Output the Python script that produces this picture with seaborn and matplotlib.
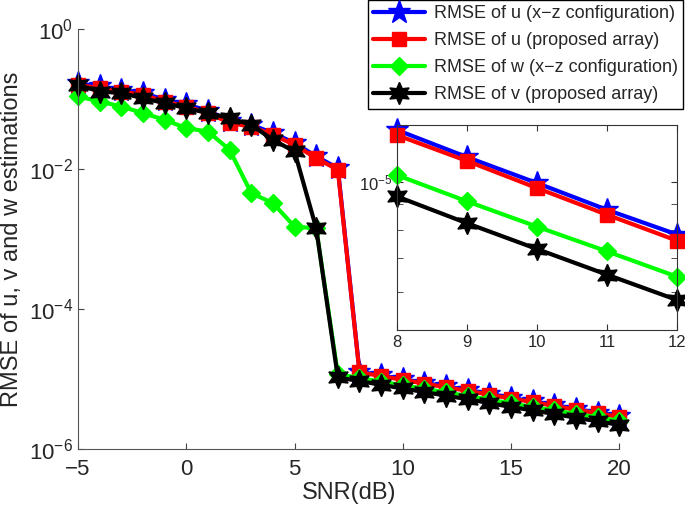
import numpy as np
import matplotlib
matplotlib.use("Agg")
import matplotlib.pyplot as plt
from matplotlib.ticker import NullFormatter, NullLocator
import seaborn as sns

snr = np.array([-5, -4, -3, -2, -1, 0, 1, 2, 3, 4, 5, 6, 7,
                8, 9, 10, 11, 12, 13, 14, 15, 16, 17, 18, 19, 20])

rmse_u_xz = np.array([0.166, 0.151, 0.135, 0.120, 0.0977, 0.0832, 0.0676, 0.0490, 0.0427,
                      0.0324, 0.0234, 0.0151, 0.0102, 1.27e-5, 1.12e-5, 9.93e-6, 8.77e-6,
                      7.82e-6, 6.92e-6, 6.17e-6, 5.37e-6, 4.79e-6, 4.27e-6, 3.72e-6, 3.31e-6, 2.95e-6])
rmse_u_prop = np.array([0.158, 0.142, 0.127, 0.114, 0.0914, 0.0776, 0.0625, 0.0454, 0.0398,
                        0.0306, 0.0220, 0.0142, 0.00968, 1.24e-5, 1.10e-5, 9.70e-6, 8.57e-6,
                        7.60e-6, 6.76e-6, 5.96e-6, 5.25e-6, 4.68e-6, 4.12e-6, 3.63e-6, 3.24e-6, 2.86e-6])
rmse_w_xz = np.array([0.108, 0.0914, 0.0776, 0.0625, 0.0501, 0.0381, 0.0341, 0.0187, 0.00450,
                      0.00324, 0.00150, 0.00141, 1.17e-5, 1.03e-5, 9.12e-6, 8.11e-6, 7.23e-6,
                      6.43e-6, 5.69e-6, 5.07e-6, 4.47e-6, 3.98e-6, 3.55e-6, 3.16e-6, 2.82e-6, 2.51e-6])
rmse_v_prop = np.array([0.158, 0.127, 0.121, 0.102, 0.0869, 0.0736, 0.0625, 0.0530, 0.0426,
                        0.0259, 0.0177, 0.00142, 1.05e-5, 9.33e-6, 8.24e-6, 7.31e-6, 6.49e-6,
                        5.77e-6, 5.13e-6, 4.52e-6, 3.98e-6, 3.55e-6, 3.16e-6, 2.79e-6, 2.48e-6, 2.21e-6])

labels = ["RMSE of u (x\u2212z configuration)", "RMSE of u (proposed array)",
          "RMSE of w (x\u2212z configuration)", "RMSE of v (proposed array)"]
colors = ["#0000ff", "#ff0000", "#00ff00", "#000000"]
markers = ["*", "s", "D", (6, 1, 0)]
msizes = [17, 10, 9.5, 16]
series = [rmse_u_xz, rmse_u_prop, rmse_w_xz, rmse_v_prop]

sns.set_style("ticks")
plt.rcParams['font.family'] = ['Liberation Sans', 'DejaVu Sans']

fig = plt.figure(figsize=(6.85, 5.05), dpi=100)
ax = fig.add_axes([0.114, 0.111, 0.79, 0.832])

for vals, lab, col, mk, ms in zip(series, labels, colors, markers, msizes):
    sns.lineplot(x=snr, y=vals, ax=ax, color=col, marker=mk, markersize=ms,
                 markeredgecolor=col, markeredgewidth=1, linewidth=3,
                 label=lab, clip_on=False)

ax.set_yscale('log')
ax.set_xlim(-5, 20)
ax.set_ylim(1e-6, 1)
ax.set_xticks([-5, 0, 5, 10, 15, 20])
ax.set_yticks([1, 1e-2, 1e-4, 1e-6])
ax.yaxis.set_minor_locator(NullLocator())
ax.tick_params(direction='in', length=4, labelsize=16, color='#444444')
ax.tick_params(axis='x', pad=7)
sns.despine(ax=ax)
for s in ['left', 'bottom']:
    ax.spines[s].set_color('#555555')
ax.set_xlabel('SNR(dB)', fontsize=17, labelpad=2)
ax.set_ylabel('RMSE of u, v and w estimations', fontsize=17)

handles, labs = ax.get_legend_handles_labels()
ax.get_legend().remove()
leg = fig.legend(handles, labs, loc='upper right', bbox_to_anchor=(0.997, 1.0),
                 fontsize=13, handlelength=2.9, handletextpad=0.45, labelspacing=0.55,
                 borderpad=0.3, borderaxespad=0, fancybox=False, framealpha=1,
                 edgecolor='black')
leg.get_frame().set_linewidth(1)

# zoomed inset
axin = fig.add_axes([0.5796, 0.3465, 0.4088, 0.406])
keep = (snr >= 8) & (snr <= 12)
for vals, col, mk, ms in zip(series, colors, markers, msizes):
    sns.lineplot(x=snr[keep], y=vals[keep], ax=axin, color=col, marker=mk, markersize=ms,
                 markeredgecolor=col, markeredgewidth=1, linewidth=3,
                 legend=False, clip_on=False)
axin.set_yscale('log')
axin.set_xlim(8, 12)
axin.set_ylim(5.02e-6, 1.30e-5)
axin.set_xticks([8, 9, 10, 11, 12])
axin.set_yticks([1e-5])
axin.yaxis.set_minor_formatter(NullFormatter())
axin.tick_params(which='both', direction='in', top=True, right=True, labelsize=12,
                 length=4, color='#333333')
axin.set_xlabel('')
axin.set_ylabel('')
for s in axin.spines.values():
    s.set_color('#333333')

fig.savefig('out.png', dpi=100)
